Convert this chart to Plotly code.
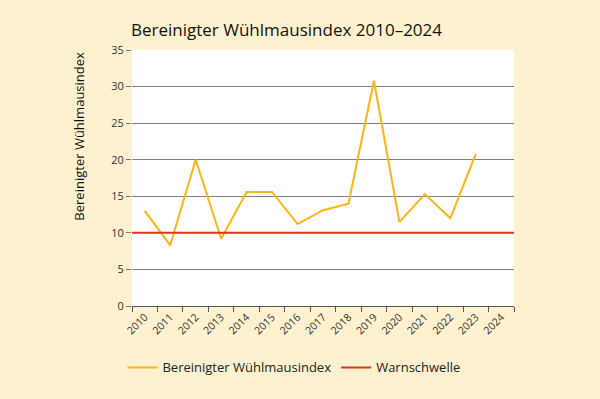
import plotly.graph_objects as go

years = [str(y) for y in range(2010, 2025)]
index_values = [13.0, 8.3, 20.0, 9.2, 15.6, 15.6, 11.2, 13.1, 14.0, 30.8, 11.5, 15.3, 12.0, 20.8, None]
threshold = 10

BG = "#FEF1CF"
ORANGE = "#FDB515"
RED = "#D8371E"
FONT = "Open Sans"

fig = go.Figure()

fig.add_trace(go.Scatter(
    x=[-0.5, len(years) - 0.5], y=[threshold, threshold],
    xaxis="x2", mode="lines", name="Warnschwelle",
    line=dict(color=RED, width=2), legendrank=2, hoverinfo="skip",
))
fig.add_trace(go.Scatter(
    x=years, y=index_values, mode="lines", name="Bereinigter Wühlmausindex",
    line=dict(color=ORANGE, width=2), legendrank=1, connectgaps=False,
))

fig.update_layout(
    width=600, height=399,
    paper_bgcolor=BG, plot_bgcolor="white",
    margin=dict(l=132, r=86, t=50, b=93),
    font=dict(family=FONT, color="#333333", size=11),
    title=dict(text="Bereinigter Wühlmausindex 2010–2024", x=131/600, xanchor="left",
               y=1 - 30/399, yanchor="middle",
               font=dict(size=17, color="#111111", family=FONT, weight=500)),
    xaxis=dict(type="category", categoryorder="array", categoryarray=years,
               range=[-0.5, len(years) - 0.5],
               tickson="boundaries", ticks="outside", ticklen=5, tickcolor="#555555",
               showline=True, linecolor="#555555", linewidth=1,
               showgrid=False, tickangle=-45, tickfont=dict(size=10.5, color="#333333")),
    xaxis2=dict(overlaying="x", range=[-0.5, len(years) - 0.5], visible=False),
    yaxis=dict(range=[0, 35], tickvals=[0, 5, 10, 15, 20, 25, 30, 35],
               showgrid=True, gridcolor="#808080", gridwidth=1.2,
               ticks="outside", ticklen=5, tickcolor="#777777",
               showline=False, zeroline=False, tickfont=dict(size=11, color="#333333")),
    legend=dict(orientation="h", x=-0.025, xanchor="left", y=-0.24, yanchor="middle",
                font=dict(size=13, color="#222222"), bgcolor="rgba(0,0,0,0)",
                itemwidth=30),
    showlegend=True,
    annotations=[dict(text="Bereinigter Wühlmausindex", textangle=-90,
                      xref="paper", yref="paper", x=-0.141, xanchor="center",
                      y=1.0, yanchor="top", showarrow=False,
                      font=dict(size=13, color="#111111", family=FONT))],
)

fig.write_html("out.html", config={"displayModeBar": False},
               post_script="document.body.style.margin='0px';document.body.style.background='" + BG + "';")
